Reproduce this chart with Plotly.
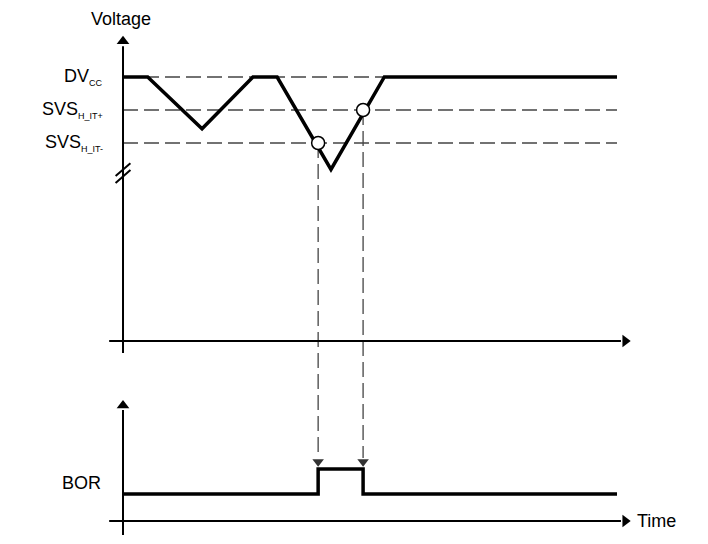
import plotly.graph_objects as go

# time in arbitrary units, 0 = origin of both diagrams
t_volt = [0, 5, 16, 26.3, 31.2, 42.1, 52.9, 100]
v_volt = [3.0, 3.0, 2.53, 3.0, 3.0, 2.16, 3.0, 3.0]

DVCC = 3.0
SVS_IT_PLUS = 2.7
SVS_IT_MINUS = 2.4
level_values = [DVCC, SVS_IT_PLUS, SVS_IT_MINUS]
level_labels = ["DV<sub><span style='font-size:9px'>CC</span></sub>",
                "SVS<sub><span style='font-size:9px'>H_IT+</span></sub>",
                "SVS<sub><span style='font-size:9px'>H_IT-</span></sub>"]

# where the supply falls below IT- and comes back above IT+
t_trip = [39.5, 48.6]
v_trip = [SVS_IT_MINUS, SVS_IT_PLUS]

t_bor = [0, 39.5, 48.6, 100]
bor = [0, 1, 0, 0]

T_END = 100
T_RANGE = [-24.9, 118.42]
V_RANGE = [0.4, 3.7]
V_DOMAIN = [0.3327, 1.0]
B_RANGE = [-2.0, 4.4]
B_DOMAIN = [0.0, 0.2941]

V_AXIS = 0.6     # where the time axis of the voltage plot sits
B_AXIS = -1.08   # where the time axis of the BOR plot sits

FONT = "Liberation Sans, Arial, sans-serif"
BLACK = "#000000"
DASH = "#444444"
DASH_STYLE = "15px,6px"


def to_paper(v, rng, dom):
    return dom[0] + (v - rng[0]) / (rng[1] - rng[0]) * (dom[1] - dom[0])


fig = go.Figure()

def line(x, y, yaxis, color=BLACK, width=2, dash=None):
    fig.add_trace(go.Scatter(x=x, y=y, yaxis=yaxis, mode="lines",
                             line=dict(color=color, width=width, dash=dash),
                             hoverinfo="skip"))

def marker(x, y, yaxis, symbol, size, color=BLACK):
    fig.add_trace(go.Scatter(x=x, y=y, yaxis=yaxis, mode="markers",
                             marker=dict(symbol=symbol, size=size, color=color,
                                         line=dict(width=0)),
                             hoverinfo="skip"))

# threshold guides
for lv in level_values:
    line([0, T_END], [lv, lv], "y", color=DASH, width=1.3, dash=DASH_STYLE)

# axes of the voltage plot
line([-2.8, 100.8], [V_AXIS, V_AXIS], "y")
line([0, 0], [0.49, 3.28], "y")
marker([101.66], [V_AXIS], "y", "triangle-right", 11)
marker([0], [3.325], "y", "triangle-up", 11)
# axis break
line([-1.5, 1.5], [2.10, 2.215], "y")
line([-1.5, 1.5], [2.036, 2.155], "y")

# axes of the BOR plot
line([-2.8, 100.8], [B_AXIS, B_AXIS], "y2")
line([0, 0], [-1.64, 3.36], "y2")
marker([101.66], [B_AXIS], "y2", "triangle-right", 11)
marker([0], [3.54], "y2", "triangle-up", 11)

# signals
line(t_volt, v_volt, "y", width=3.5)
fig.add_trace(go.Scatter(x=t_bor, y=bor, yaxis="y2", mode="lines",
                         line=dict(color=BLACK, width=3.5, shape="hv"),
                         hoverinfo="skip"))

# trip points
fig.add_trace(go.Scatter(x=t_trip, y=v_trip, yaxis="y", mode="markers",
                         marker=dict(symbol="circle", size=13, color="white",
                                     line=dict(color=BLACK, width=1.5)),
                         hoverinfo="skip"))
marker(t_trip, [1.292, 1.292], "y2", "triangle-down", 10, color="#333333")

# dashed drop lines from the trip points to the BOR edges
for t, v in zip(t_trip, v_trip):
    fig.add_shape(type="line", xref="x", yref="paper", layer="below",
                  x0=t, x1=t,
                  y0=to_paper(v, V_RANGE, V_DOMAIN),
                  y1=to_paper(1.44, B_RANGE, B_DOMAIN),
                  line=dict(color=DASH, width=1.3, dash=DASH_STYLE))

# labels
for lv, txt in zip(level_values, level_labels):
    fig.add_annotation(x=-3.64, y=lv, yref="y", text=txt, showarrow=False,
                       xanchor="right", yanchor="middle")
fig.add_annotation(x=-0.4, y=3.53, yref="y", text="Voltage", showarrow=False,
                   xanchor="center", yanchor="middle")
fig.add_annotation(x=-4.0, y=0.44, yref="y2", text="BOR", showarrow=False,
                   xanchor="right", yanchor="middle")
fig.add_annotation(x=103.6, y=B_AXIS, yref="y2", text="Time", showarrow=False,
                   xanchor="left", yanchor="middle")

fig.update_layout(
    width=708, height=544,
    margin=dict(l=0, r=0, t=0, b=0),
    paper_bgcolor="white", plot_bgcolor="white",
    showlegend=False,
    font=dict(family=FONT, size=18, color=BLACK),
    xaxis=dict(range=T_RANGE, visible=False, fixedrange=True),
    yaxis=dict(range=V_RANGE, domain=V_DOMAIN, visible=False, fixedrange=True),
    yaxis2=dict(range=B_RANGE, domain=B_DOMAIN, visible=False, fixedrange=True),
)

# page body has a default 8px margin, drop it so the figure fills the window
fig.write_html("out.html", config={"displayModeBar": False},
               post_script="document.body.style.margin='0px';")
